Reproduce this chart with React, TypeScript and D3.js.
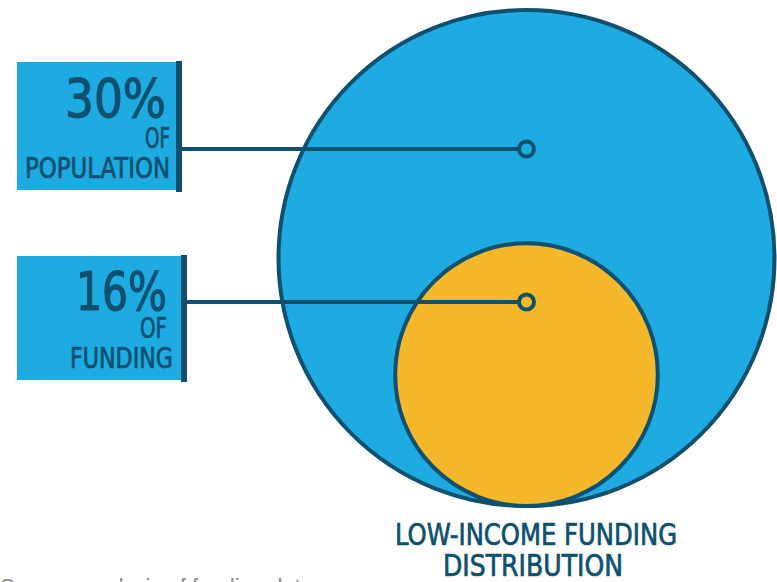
import React, { useEffect, useRef } from 'react';
import * as d3 from 'd3';

const categories = ['POPULATION', 'FUNDING'];
const percents = [30, 16];
const fills = ['#1eabe2', '#f5b82a'];
const title = ['LOW-INCOME FUNDING', 'DISTRIBUTION'];

const DARK = '#0f506f';
const FONT = '"DejaVu Sans Condensed", "DejaVu Sans", sans-serif';

export default function App() {
  const svgRef = useRef<SVGSVGElement>(null);

  useEffect(() => {
    const w = 777;
    const h = 582;
    const svg = d3.select(svgRef.current).attr('width', w).attr('height', h);
    svg.selectAll('*').remove();

    const cx = 526.5;
    const baseY = 508; // both circles sit on this line
    // radius is linear with the share
    const r = d3.scaleLinear().domain([0, 30]).range([0, 250]);

    const circles = categories.map((c, i) => ({
      name: c,
      pct: percents[i],
      fill: fills[i],
      rr: r(percents[i]),
      cy: baseY - r(percents[i]),
    }));

    svg.selectAll('circle.bubble')
      .data(circles)
      .enter()
      .append('circle')
      .attr('class', 'bubble')
      .attr('cx', cx)
      .attr('cy', d => d.cy)
      .attr('r', d => d.rr - 2)
      .attr('fill', d => d.fill)
      .attr('stroke', DARK)
      .attr('stroke-width', 4);

    const dotY = [149, 302];
    const boxTop = [62, 256];
    const boxW = [160, 165];
    const boxH = [128, 124];
    // [text, right edge, baseline, size, width]
    const rows = [
      [['30%', 166, 117, 53, 101], ['OF', 170, 148, 28, 25], ['POPULATION', 170, 178, 28, 145]],
      [['16%', 167, 310, 53, 91], ['OF', 167, 338, 28, 27], ['FUNDING', 173, 368, 28, 103]],
    ];

    circles.forEach((d, i) => {
      const bx = 17;
      const by = boxTop[i];
      const right = bx + boxW[i];
      const g = svg.append('g');
      g.append('rect')
        .attr('x', bx)
        .attr('y', by)
        .attr('width', boxW[i])
        .attr('height', boxH[i])
        .attr('fill', '#1eabe2');
      g.append('rect')
        .attr('x', right - 1)
        .attr('y', by - 1)
        .attr('width', 6)
        .attr('height', boxH[i] + 3)
        .attr('fill', DARK);
      g.append('line')
        .attr('x1', right + 4)
        .attr('x2', cx - 7)
        .attr('y1', dotY[i])
        .attr('y2', dotY[i])
        .attr('stroke', DARK)
        .attr('stroke-width', 4);
      g.append('circle')
        .attr('cx', cx)
        .attr('cy', dotY[i])
        .attr('r', 7.5)
        .attr('fill', 'none')
        .attr('stroke', DARK)
        .attr('stroke-width', 4);

      rows[i].forEach((row: any[], k) => {
        const t = k === 0 ? d.pct + '%' : k === 2 ? d.name : row[0];
        g.append('text')
          .attr('x', row[1] - row[4])
          .attr('y', row[2])
          .attr('font-family', FONT)
          .attr('font-stretch', 'condensed')
          .attr('font-size', row[3])
          .attr('textLength', row[4])
          .attr('lengthAdjust', 'spacingAndGlyphs')
          .attr('fill', DARK)
          .attr('stroke', DARK)
          .attr('stroke-width', k === 0 ? 1.2 : 0.7)
          .text(t);
      });
    });

    const titleW = [282, 180];
    const titleX = [395, 443];
    svg.selectAll('text.title')
      .data(title)
      .enter()
      .append('text')
      .attr('class', 'title')
      .attr('x', (d, i) => titleX[i])
      .attr('y', (d, i) => 545 + i * 31)
      .attr('font-family', FONT)
      .attr('font-stretch', 'condensed')
      .attr('font-size', 30)
      .attr('textLength', (d, i) => titleW[i])
      .attr('lengthAdjust', 'spacingAndGlyphs')
      .attr('fill', DARK)
      .attr('stroke', DARK)
      .attr('stroke-width', 0.7)
      .text(d => d);

    // source note, cut off by the bottom edge
    svg.append('text')
      .attr('x', 0)
      .attr('y', 594)
      .attr('font-family', 'Liberation Sans, sans-serif')
      .attr('font-size', 22)
      .attr('fill', '#888')
      .text('Source: analysis of funding data');
  }, []);

  return (
    <svg ref={svgRef} style={{ position: 'absolute', left: 0, top: 0, display: 'block' }} />
  );
}
